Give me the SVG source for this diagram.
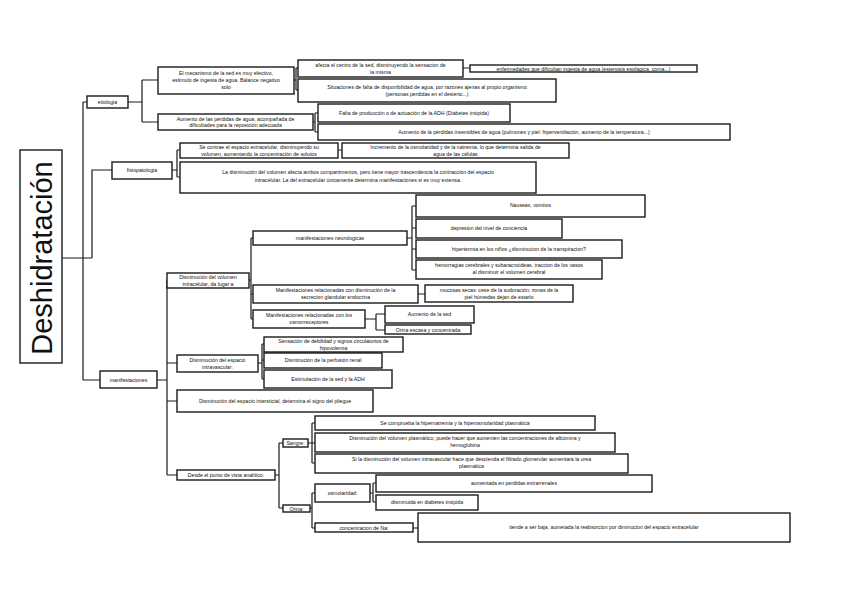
<svg xmlns="http://www.w3.org/2000/svg" width="848" height="599" viewBox="0 0 848 599">
<style>
rect{fill:#fff;stroke:#1a1a1a;stroke-width:1.4}
text{font-family:"Liberation Sans",Arial,sans-serif;font-size:5.2px;fill:#111;text-anchor:middle}
#connectors path{fill:none;stroke:#1a1a1a;stroke-width:1.2}
.root{font-size:29px}
</style>
<rect x="0" y="0" width="848" height="599" style="stroke:none"/>
<g id="connectors">
<path d="M62,258H92M83,102V380M83,102H87M83,380H100M92,258V170H112"/>
<path d="M128,102H142M142,80V122M142,80H158M142,122H158"/>
<path d="M294,80H296M296,68V90M296,68H298M296,90H298M463,68H470"/>
<path d="M313,122H315M315,113V132M315,113H318M315,132H318"/>
<path d="M172,170H177M177,150V177M177,150H180M177,177H180M338,150H342"/>
<path d="M157,380H167M167,280V475M167,280H167M167,363H177M167,401H177M167,475H177"/>
<path d="M249,280H251M251,238V319M251,238H253M251,294H253M251,319H253"/>
<path d="M407,238H412M412,206V270M412,206H416M412,228H416M412,249H416M412,270H416"/>
<path d="M418,294H425M365,319H376M376,314V330M376,314H385M376,330H385"/>
<path d="M258,363H262M262,344V379M262,344H264M262,360H264M262,379H264"/>
<path d="M275,475H279M279,443V508M279,443H283M279,508H283"/>
<path d="M308,443H312M312,423V463M312,423H315M312,443H315M312,463H315"/>
<path d="M310,508H312M312,493V528M312,493H315M312,528H315"/>
<path d="M370,493H373M373,483V502M373,483H376M373,502H376M413,528H418"/>
</g>
<g id="root"><rect x="20" y="150" width="42" height="213"/><text class="root" transform="translate(52,258) rotate(-90)">Deshidratación</text></g>
<g id="etiologia"><rect x="87" y="96" width="41" height="12"/><text x="107.5" y="104">etiologia</text></g>
<g id="fisio"><rect x="112" y="162" width="60" height="17"/><text x="142" y="172">fisiopatologia</text></g>
<g id="manif"><rect x="100" y="371" width="57" height="17"/><text x="128.5" y="381.5">manifestaciones</text></g>
<g id="e1"><rect x="158" y="67" width="136" height="27"/><text x="226" y="75">El mecanismo de la sed es muy efectivo,</text><text x="226" y="82">estimulo de ingesta de agua. Balance negativo</text><text x="226" y="89">solo</text></g>
<g id="e2"><rect x="158" y="114" width="155" height="16"/><text x="235.5" y="120.5">Aumento de las pérdidas de agua, acompañada de</text><text x="235.5" y="127">dificultades para la reposición adecuada</text></g>
<g id="e1a"><rect x="298" y="60" width="165" height="17"/><text x="380.5" y="67">afecta el centro de la sed, disminuyendo la sensacion de</text><text x="380.5" y="74">la misma</text></g>
<g id="e1a1"><rect x="470" y="65" width="227" height="7"/><text x="583.5" y="70.5">enfermedades que dificultan ingesta de agua (estenosis esofagica, coma...)</text></g>
<g id="e1b"><rect x="298" y="79" width="258" height="23"/><text x="427" y="89">Situaciones de falta de disponibilidad de agua, por razones ajenas al propio organismo</text><text x="427" y="96">(personas perdidas en el desierto...)</text></g>
<g id="e2a"><rect x="318" y="104" width="192" height="18"/><text x="414" y="115">Falta de producción o de actuación de la ADH (Diabetes insipida)</text></g>
<g id="e2b"><rect x="318" y="124" width="412" height="16"/><text x="524" y="134">Aumento de la pérdidas insensibles de agua (pulmones y piel: hiperventilación, aumento de la temperatura...)</text></g>
<g id="f1"><rect x="180" y="143" width="158" height="15"/><text x="259" y="149">Se contrae el espacio extracelular, disminuyendo su</text><text x="259" y="155.5">volumen, aumentando la concentración de solutos</text></g>
<g id="f1a"><rect x="342" y="143" width="227" height="15"/><text x="455.5" y="149">Incremento de la osmolaridad y de la natremia, lo que determina salida de</text><text x="455.5" y="155.5">agua de las células</text></g>
<g id="f2"><rect x="180" y="162" width="356" height="31"/><text x="358" y="174">La disminución del volumen afecta ambos compartimentos, pero tiene mayor trascendencia la contracción del espacio</text><text x="358" y="182">intracelular. La del extracelular únicamente determina manifestaciones si es muy extensa.</text></g>
<g id="m1"><rect x="167" y="273" width="82" height="15"/><text x="208" y="279">Disminución del volumen</text><text x="208" y="285.5">intracelular, da lugar a</text></g>
<g id="m1a"><rect x="253" y="231" width="154" height="14"/><text x="330" y="240">manifestaciones neurologicas</text></g>
<g id="n1"><rect x="416" y="195" width="229" height="22"/><text x="530.5" y="207">Nauseas, vomitos</text></g>
<g id="n2"><rect x="416" y="219" width="146" height="19"/><text x="489" y="230">depresion del nivel de conciencia</text></g>
<g id="n3"><rect x="416" y="240" width="206" height="18"/><text x="519" y="251">hipertermia en los niños ¿disminucion de la transpiracion?</text></g>
<g id="n4"><rect x="416" y="260" width="186" height="19"/><text x="509" y="267">hemorragias cerebrales y subaracnoideas, traccion de los vasos</text><text x="509" y="274">al disminuir el volumen cerebral</text></g>
<g id="m1b"><rect x="253" y="285" width="165" height="18"/><text x="335.5" y="292">Manifestaciones relacionadas con disminución de la</text><text x="335.5" y="299">secrecion glandular endocrina</text></g>
<g id="m1b1"><rect x="425" y="285" width="148" height="17"/><text x="499" y="292">mucosas secas: cese de la sudoración; zonas de la</text><text x="499" y="298.5">piel húmedas dejan de estarlo</text></g>
<g id="m1c"><rect x="253" y="310" width="112" height="18"/><text x="309" y="317">Manifestaciones relacionadas con los</text><text x="309" y="324">osmorreceptores</text></g>
<g id="m1c1"><rect x="385" y="306" width="89" height="17"/><text x="429.5" y="316">Aumento de la sed</text></g>
<g id="m1c2"><rect x="385" y="325" width="86" height="9"/><text x="428" y="331.5">Orina escasa y concentrada</text></g>
<g id="m2"><rect x="177" y="355" width="81" height="17"/><text x="217.5" y="362">Disminución del espacio</text><text x="217.5" y="368.5">intravascular:</text></g>
<g id="m2a"><rect x="264" y="337" width="139" height="15"/><text x="333.5" y="343">Sensación de debilidad y signos circulatorios de</text><text x="333.5" y="349.5">hipovolemia</text></g>
<g id="m2b"><rect x="264" y="353" width="118" height="15"/><text x="323" y="362">Disminución de la perfusión renal</text></g>
<g id="m2c"><rect x="264" y="370" width="128" height="18"/><text x="328" y="381">Estimulación de la sed y la ADH</text></g>
<g id="m3"><rect x="177" y="390" width="196" height="22"/><text x="275" y="403">Disminución del espacio intersticial, determina el signo del pliegue</text></g>
<g id="m4"><rect x="177" y="470" width="98" height="10"/><text x="226" y="477">Desde el punto de vista analítico:</text></g>
<g id="s"><rect x="283" y="439" width="25" height="8"/><text x="295.5" y="445">Sangre:</text></g>
<g id="s1"><rect x="315" y="416" width="280" height="14"/><text x="455" y="425">Se comprueba la hipernatremia y la hiperosmolaridad plasmática</text></g>
<g id="s2"><rect x="315" y="433" width="300" height="19"/><text x="465" y="440">Disminución del volumen plasmático, puede hacer que aumenten las concentraciones de albúmina y</text><text x="465" y="447">hemoglobina</text></g>
<g id="s3"><rect x="315" y="454" width="313" height="19"/><text x="471.5" y="461">Si la disminución del volumen intravascular hace que descienda el filtrado glomerular aumentara la urea</text><text x="471.5" y="468">plasmática</text></g>
<g id="o"><rect x="283" y="505" width="27" height="7"/><text x="296.5" y="510.5">Orina:</text></g>
<g id="o1"><rect x="315" y="484" width="55" height="18"/><text x="342.5" y="494.5">osmolaridad:</text></g>
<g id="o1a"><rect x="376" y="475" width="276" height="17"/><text x="514" y="485">aumentada en perdidas extrarrenales</text></g>
<g id="o1b"><rect x="376" y="495" width="102" height="15"/><text x="427" y="504">disminuida en diabetes insipida</text></g>
<g id="o2"><rect x="315" y="523" width="98" height="9"/><text x="364" y="529.5">concentracion de Na:</text></g>
<g id="o2a"><rect x="418" y="513" width="372" height="29"/><text x="604" y="529">tiende a ser baja, aumetada la reabsorcion por diminucion del espacio extracelular</text></g>
</svg>
